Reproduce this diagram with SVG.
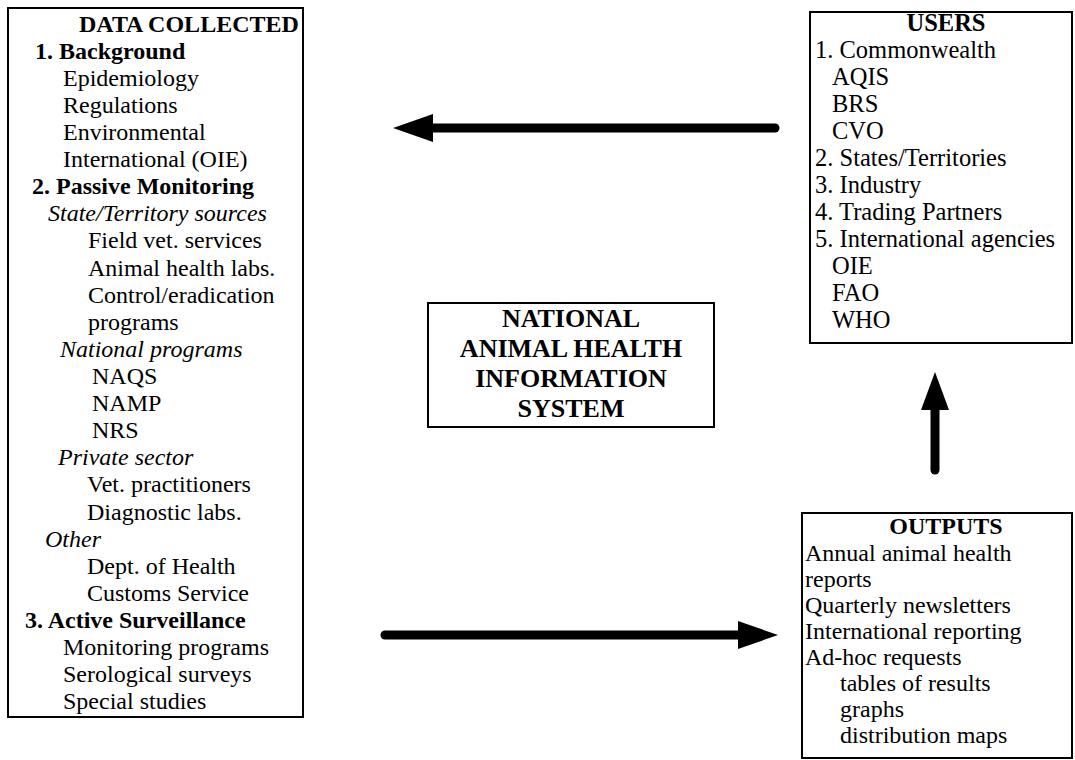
<svg xmlns="http://www.w3.org/2000/svg" width="1075" height="760" viewBox="0 0 1075 760">
<style>
.box{fill:#fff;stroke:#000;stroke-width:2}
text{font-family:"Liberation Serif","Times New Roman",serif;font-size:24px;fill:#000}
.b{font-weight:bold}
.i{font-style:italic}
.c{text-anchor:middle}
.u{font-size:24.5px}
.big{font-size:26px}
.arr{stroke:#000;stroke-width:9;stroke-linecap:round;fill:none}
.head{fill:#000}
</style>
<rect width="1075" height="760" fill="#fff"/>
<g id="data-collected">
<rect class="box" x="8" y="8" width="295" height="709"/>
<text class="b" x="79" y="32">DATA COLLECTED</text>
<text class="b" x="35" y="59">1. Background</text>
<text x="63" y="86">Epidemiology</text>
<text x="63" y="113">Regulations</text>
<text x="63" y="140">Environmental</text>
<text x="63" y="167">International (OIE)</text>
<text class="b" x="32" y="194">2. Passive Monitoring</text>
<text class="i" x="48" y="221">State/Territory sources</text>
<text x="88" y="248">Field vet. services</text>
<text x="88" y="276">Animal health labs.</text>
<text x="88" y="303">Control/eradication</text>
<text x="88" y="330">programs</text>
<text class="i" x="60" y="357">National programs</text>
<text x="92" y="384">NAQS</text>
<text x="92" y="411">NAMP</text>
<text x="92" y="438">NRS</text>
<text class="i" x="58" y="465">Private sector</text>
<text x="87" y="492">Vet. practitioners</text>
<text x="87" y="520">Diagnostic labs.</text>
<text class="i" x="45" y="547">Other</text>
<text x="87" y="574">Dept. of  Health</text>
<text x="87" y="601">Customs Service</text>
<text class="b" x="25" y="628">3. Active Surveillance</text>
<text x="63" y="655">Monitoring programs</text>
<text x="63" y="682">Serological surveys</text>
<text x="63" y="709">Special studies</text>
</g>
<g id="users">
<rect class="box" x="810" y="12" width="262" height="331"/>
<text class="b c u" x="946" y="31">USERS</text>
<text class="u" x="815" y="58">1. Commonwealth</text>
<text class="u" x="832" y="85">AQIS</text>
<text class="u" x="832" y="112">BRS</text>
<text class="u" x="832" y="139">CVO</text>
<text class="u" x="815" y="166">2. States/Territories</text>
<text class="u" x="815" y="193">3. Industry</text>
<text class="u" x="815" y="220">4. Trading Partners</text>
<text class="u" x="815" y="247">5. International agencies</text>
<text class="u" x="832" y="274">OIE</text>
<text class="u" x="832" y="301">FAO</text>
<text class="u" x="832" y="328">WHO</text>
</g>
<g id="nahis">
<rect class="box" x="428" y="303" width="286" height="124"/>
<text class="b c big" x="571" y="327">NATIONAL</text>
<text class="b c big" x="571" y="357">ANIMAL HEALTH</text>
<text class="b c big" x="571" y="387">INFORMATION</text>
<text class="b c big" x="571" y="417">SYSTEM</text>
</g>
<g id="outputs">
<rect class="box" x="802" y="513" width="270" height="245"/>
<text class="b c" x="946" y="534">OUTPUTS</text>
<text x="805" y="561">Annual animal health</text>
<text x="805" y="587">reports</text>
<text x="805" y="613">Quarterly newsletters</text>
<text x="805" y="639">International reporting</text>
<text x="805" y="665">Ad-hoc requests</text>
<text x="840" y="691">tables of results</text>
<text x="840" y="717">graphs</text>
<text x="840" y="743">distribution maps</text>
</g>
<g id="connectors">
<line class="arr" x1="775" y1="128" x2="425" y2="128"/>
<polygon class="head" points="393,128 433,114 433,142"/>
<line class="arr" x1="935" y1="470" x2="935" y2="404"/>
<polygon class="head" points="935,372 921,410 949,410"/>
<line class="arr" x1="385" y1="635" x2="745" y2="635"/>
<polygon class="head" points="778,635 738,621 738,649"/>
</g>
</svg>
